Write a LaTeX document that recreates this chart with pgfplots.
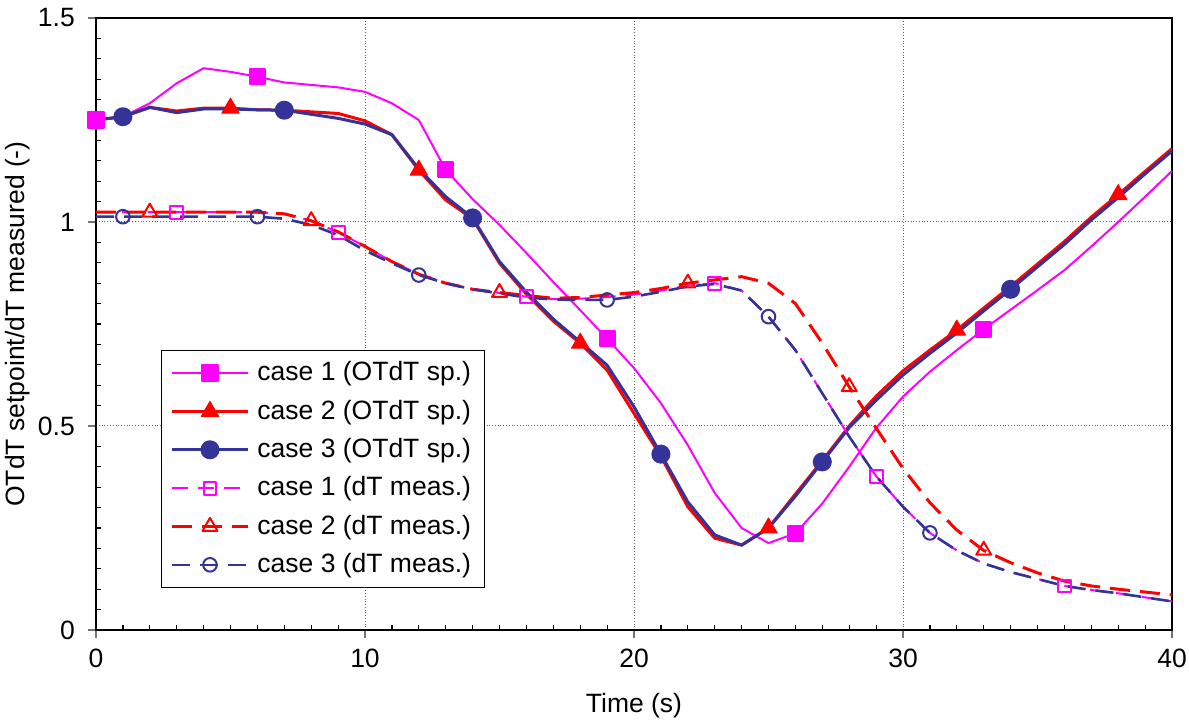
\documentclass[border=0pt]{standalone}
\usepackage{pgfplots}
\usepackage{pgfplotstable}
\pgfplotsset{compat=1.18}
\usepackage{fontspec}
\setmainfont{Liberation Sans}
\definecolor{cmag}{RGB}{255,0,255}
\definecolor{cred}{RGB}{255,0,0}
\definecolor{cblue}{RGB}{51,51,153}

\pgfplotstableread{
x  csa   csb   csc   cda   cdb   cdc
0  1.250 1.250 1.250 1.024 1.024 1.013
1  1.258 1.258 1.258 1.024 1.024 1.013
2  1.291 1.281 1.281 1.024 1.024 1.013
3  1.340 1.272 1.268 1.024 1.024 1.013
4  1.377 1.279 1.277 1.024 1.024 1.013
5  1.368 1.279 1.277 1.024 1.024 1.013
6  1.356 1.275 1.275 1.024 1.024 1.013
7  1.342 1.274 1.274 1.020 1.020 1.008
8  1.336 1.270 1.264 1.003 1.003 0.993
9  1.330 1.266 1.254 0.975 0.976 0.968
10 1.319 1.248 1.240 0.940 0.940 0.930
11 1.291 1.214 1.214 0.903 0.903 0.899
12 1.250 1.127 1.130 0.872 0.872 0.870
13 1.128 1.054 1.062 0.851 0.850 0.850
14 1.056 1.008 1.010 0.836 0.835 0.835
15 0.993 0.899 0.903 0.826 0.827 0.825
16 0.924 0.823 0.828 0.817 0.820 0.815
17 0.853 0.757 0.762 0.811 0.813 0.810
18 0.784 0.703 0.706 0.812 0.815 0.809
19 0.714 0.637 0.649 0.816 0.821 0.809
20 0.642 0.531 0.547 0.822 0.827 0.817
21 0.556 0.426 0.431 0.832 0.837 0.829
22 0.453 0.302 0.314 0.844 0.850 0.842
23 0.336 0.225 0.233 0.850 0.858 0.848
24 0.250 0.208 0.208 0.832 0.866 0.832
25 0.213 0.250 0.250 0.768 0.850 0.768
26 0.237 0.333 0.328 0.686 0.800 0.686
27 0.310 0.415 0.412 0.580 0.703 0.580
28 0.400 0.500 0.496 0.474 0.596 0.474
29 0.495 0.573 0.563 0.377 0.495 0.377
30 0.572 0.635 0.625 0.302 0.396 0.302
31 0.633 0.686 0.678 0.238 0.312 0.238
32 0.686 0.735 0.728 0.195 0.245 0.195
33 0.737 0.789 0.782 0.163 0.195 0.163
34 0.785 0.842 0.835 0.142 0.165 0.142
35 0.833 0.897 0.890 0.125 0.140 0.125
36 0.882 0.952 0.945 0.108 0.120 0.108
37 0.940 1.012 1.005 0.098 0.108 0.098
38 1.000 1.067 1.060 0.090 0.100 0.090
39 1.062 1.124 1.118 0.080 0.093 0.080
40 1.125 1.180 1.174 0.070 0.086 0.070
}\data

\begin{document}
\fontsize{13.3}{16}\selectfont
\begin{tikzpicture}
\useasboundingbox (-48bp,-48bp) rectangle (546.5bp,315bp);
\begin{axis}[
  scale only axis, width=538bp, height=306bp,
  xmin=0, xmax=40, ymin=0, ymax=1.5,
  xtick={0,10,20,30,40}, ytick={0,0.5,1,1.5},
  minor x tick num=9, minor y tick num=9,
  tick pos=left, tick align=outside,
  major tick length=4bp, minor tick length=-2.5bp,
  major tick style={black!55, line width=0.7bp},
  minor tick style={black, line width=0.6bp},
  grid=major,
  major grid style={densely dotted, black!60, line width=0.5bp},
  axis line style={line width=1.3bp},
  /pgf/number format/assume math mode=true,
  ticklabel style={font=\fontsize{13.3}{16}\selectfont},
  xticklabel style={yshift=-1bp},
  yticklabel style={xshift=-2bp},
  xlabel={Time (s)},
  ylabel={OTdT setpoint/dT measured (-)},
  every axis x label/.style={at={(axis description cs:0.5,0)}, anchor=center, yshift=-38bp, font=\fontsize{13.3}{16}\selectfont},
  every axis y label/.style={at={(axis description cs:0,0.5)}, anchor=center, rotate=90, yshift=39bp, font=\fontsize{13.3}{16}\selectfont},
  legend style={at={(0.0604,0.4575)}, anchor=north west, draw=black, line width=0.5bp,
    font=\fontsize{13.3}{16}\selectfont, row sep=3.6bp, column sep=2bp, inner xsep=4.5bp, inner ysep=3.5bp,
    cells={anchor=west}},
  legend image code/.code={\draw[mark indices={2}] plot coordinates {(0bp,0bp)(19bp,0bp)(38bp,0bp)};},
  every axis plot/.append style={line join=round},
]
\addplot[cmag, line width=1bp, mark=square*, mark size=3.8bp, mark options={solid, fill=cmag},
  mark indices={1,7,14,20,27,34}] table[x=x, y=csa] {\data};
\addlegendentry{case 1 (OTdT sp.)}
\addplot[cred, line width=1.5bp, mark=triangle*, mark size=5bp, mark options={solid, fill=cred, line width=0.5bp},
  mark indices={6,13,19,26,33,39}] table[x=x, y=csb] {\data};
\addlegendentry{case 2 (OTdT sp.)}
\addplot[cblue, line width=1.5bp, mark=*, mark size=4bp, mark options={solid, fill=cblue},
  mark indices={2,8,15,22,28,35}] table[x=x, y=csc] {\data};
\addlegendentry{case 3 (OTdT sp.)}
\addplot[cmag, line width=1bp, dash pattern=on 8bp off 5bp, mark=square, mark size=3.2bp, mark options={solid, fill=white, line width=1bp},
  mark indices={4,10,17,24,30,37}] table[x=x, y=cda] {\data};
\addlegendentry{case 1 (dT meas.)}
\addplot[cred, line width=1.5bp, dash pattern=on 10bp off 5bp, mark=triangle, mark size=4.3bp, mark options={solid, fill=white, line width=1bp},
  mark indices={3,9,16,23,29,34}] table[x=x, y=cdb] {\data};
\addlegendentry{case 2 (dT meas.)}
\addplot[cblue, line width=1.3bp, dash pattern=on 9bp off 5bp, mark=o, mark size=3.4bp, mark options={solid, fill=white, line width=1bp},
  mark indices={2,7,13,20,26,32}] table[x=x, y=cdc] {\data};
\addlegendentry{case 3 (dT meas.)}
\end{axis}
\end{tikzpicture}
\end{document}
